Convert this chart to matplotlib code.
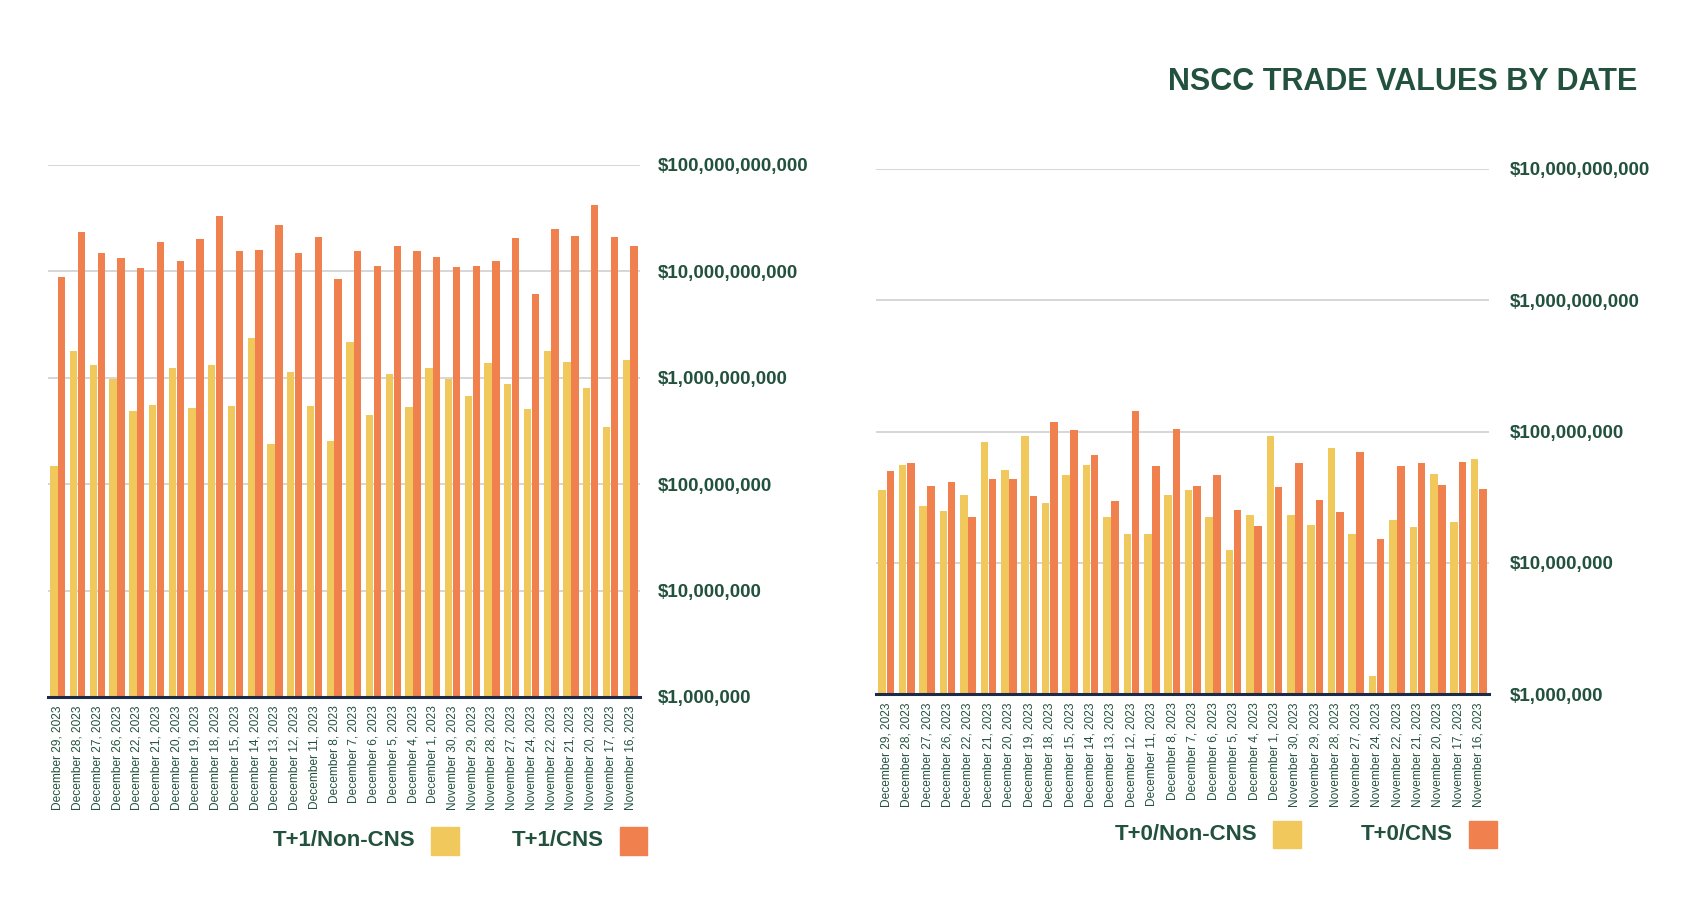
import matplotlib
matplotlib.use("Agg")
import matplotlib.pyplot as plt
from matplotlib.patches import Rectangle
from matplotlib.ticker import FixedLocator, FuncFormatter, NullLocator
from matplotlib import font_manager
import numpy as np

# ---------------- data (chronological order) ----------------
dates = ["November 16, 2023", "November 17, 2023", "November 20, 2023", "November 21, 2023",
         "November 22, 2023", "November 24, 2023", "November 27, 2023", "November 28, 2023",
         "November 29, 2023", "November 30, 2023", "December 1, 2023", "December 4, 2023",
         "December 5, 2023", "December 6, 2023", "December 7, 2023", "December 8, 2023",
         "December 11, 2023", "December 12, 2023", "December 13, 2023", "December 14, 2023",
         "December 15, 2023", "December 18, 2023", "December 19, 2023", "December 20, 2023",
         "December 21, 2023", "December 22, 2023", "December 26, 2023", "December 27, 2023",
         "December 28, 2023", "December 29, 2023"]

t1_cns = [1.74e10, 2.10e10, 4.25e10, 2.15e10, 2.51e10, 6.14e9, 2.05e10, 1.26e10, 1.12e10, 1.10e10,
          1.37e10, 1.54e10, 1.74e10, 1.12e10, 1.54e10, 8.53e9, 2.09e10, 1.48e10, 2.74e10, 1.59e10,
          1.54e10, 3.29e10, 2.02e10, 1.26e10, 1.88e10, 1.07e10, 1.34e10, 1.48e10, 2.33e10, 8.87e9]
t1_noncns = [1.47e9, 3.48e8, 8.06e8, 1.42e9, 1.77e9, 5.07e8, 8.80e8, 1.39e9, 6.76e8, 9.84e8,
             1.24e9, 5.27e8, 1.09e9, 4.50e8, 2.15e9, 2.53e8, 5.41e8, 1.14e9, 2.37e8, 2.35e9,
             5.49e8, 1.31e9, 5.15e8, 1.24e9, 5.58e8, 4.91e8, 9.84e8, 1.31e9, 1.79e9, 1.48e8]

t0_cns = [3.64e7, 5.87e7, 3.91e7, 5.73e7, 5.47e7, 1.53e7, 7.00e7, 2.43e7, 3.03e7, 5.73e7,
          3.80e7, 1.91e7, 2.51e7, 4.66e7, 3.83e7, 1.05e8, 5.47e7, 1.43e8, 2.95e7, 6.60e7,
          1.03e8, 1.18e8, 3.21e7, 4.36e7, 4.36e7, 2.23e7, 4.14e7, 3.85e7, 5.80e7, 5.02e7]
t0_noncns = [6.19e7, 2.04e7, 4.71e7, 1.86e7, 2.12e7, 1.38e6, 1.66e7, 7.52e7, 1.95e7, 2.32e7,
             9.31e7, 2.32e7, 1.24e7, 2.23e7, 3.56e7, 3.27e7, 1.66e7, 1.66e7, 2.25e7, 5.57e7,
             4.68e7, 2.86e7, 9.31e7, 5.13e7, 8.28e7, 3.27e7, 2.46e7, 2.73e7, 5.57e7, 3.56e7]

left_ticks = [1e6, 1e7, 1e8, 1e9, 1e10, 1e11]
right_ticks = [1e6, 1e7, 1e8, 1e9, 1e10]

title = "NSCC TRADE VALUES BY DATE"
left_labels = ["T+1/CNS", "T+1/Non-CNS"]
right_labels = ["T+0/CNS", "T+0/Non-CNS"]

# ---------------- style ----------------
ORANGE = "#F0804E"
YELLOW = "#F0C85C"
GREEN = "#22513D"
GRID = "#CFCFCF"
AXIS = "#1C2B4A"
FONT = ["Liberation Sans", "DejaVu Sans"]

# pick a condensed bold face for the title if one is installed
names = {f.name for f in font_manager.fontManager.ttflist}
if "Liberation Sans Narrow" in names:
    TITLE_FONT, TITLE_SIZE = ["Liberation Sans Narrow"], 28
elif "DejaVu Sans Condensed" in names:
    TITLE_FONT, TITLE_SIZE = ["DejaVu Sans Condensed"], 25
else:
    TITLE_FONT, TITLE_SIZE = ["Liberation Sans"], 22

W, H = 1700, 910
fig = plt.figure(figsize=(W / 100, H / 100), dpi=100)


def fx(px):
    return px / W


def fy(py):
    return 1 - py / H


def draw_panel(rect, cns, noncns, ticks, pad):
    ax = fig.add_axes(rect)
    x = np.arange(len(dates))
    w = 0.37
    ax.bar(x - 0.2, cns, width=w, color=ORANGE, zorder=3)
    ax.bar(x + 0.2, noncns, width=w, color=YELLOW, zorder=3)
    ax.set_yscale("log")
    ax.set_ylim(ticks[0], ticks[-1])
    ax.set_xlim(-0.5, len(dates) - 0.5)
    ax.invert_xaxis()  # mirrored layout as in the reference
    ax.yaxis.set_major_locator(FixedLocator(ticks))
    ax.yaxis.set_minor_locator(NullLocator())
    ax.yaxis.set_major_formatter(FuncFormatter(lambda v, p: "${:,.0f}".format(v)))
    ax.yaxis.tick_right()
    ax.tick_params(axis="y", length=0, pad=pad, labelsize=13.5, labelcolor=GREEN)
    for lab in ax.get_yticklabels():
        lab.set_fontweight("bold")
        lab.set_family(FONT)
    ax.set_xticks(x)
    ax.set_xticklabels(dates, rotation=90, fontsize=8.6, color=GREEN, family=FONT)
    ax.tick_params(axis="x", length=0, pad=6)
    ax.grid(axis="y", color=GRID, linewidth=1.2, zorder=0)
    for s in ["top", "left", "right"]:
        ax.spines[s].set_visible(False)
    ax.spines["bottom"].set_color(AXIS)
    ax.spines["bottom"].set_linewidth(2.2)
    ax.spines["bottom"].set_zorder(4)
    return ax


axL = draw_panel([fx(48), fy(697), fx(640) - fx(48), fy(165) - fy(697)],
                 t1_cns, t1_noncns, left_ticks, 13)
axR = draw_panel([fx(876), fy(694), fx(1489) - fx(876), fy(169) - fy(694)],
                 t0_cns, t0_noncns, right_ticks, 15)

fig.text(fx(1637), fy(82), title, ha="right", va="center", fontsize=TITLE_SIZE,
         fontweight="bold", color=GREEN, family=TITLE_FONT)


def legend_item(x0, x1, y0, y1, color, label):
    fig.patches.append(Rectangle((fx(x0), fy(y1)), fx(x1) - fx(x0), fy(y0) - fy(y1),
                                 transform=fig.transFigure, color=color, figure=fig))
    fig.text(fx(x0 - 16), fy((y0 + y1) / 2), label, ha="right", va="center",
             fontsize=16, fontweight="bold", color=GREEN, family=FONT)


legend_item(620, 647, 827, 855, ORANGE, left_labels[0])
legend_item(431, 459, 827, 855, YELLOW, left_labels[1])
legend_item(1469, 1497, 821, 848, ORANGE, right_labels[0])
legend_item(1273, 1301, 821, 848, YELLOW, right_labels[1])

fig.savefig("out.png", dpi=100, facecolor="white")
